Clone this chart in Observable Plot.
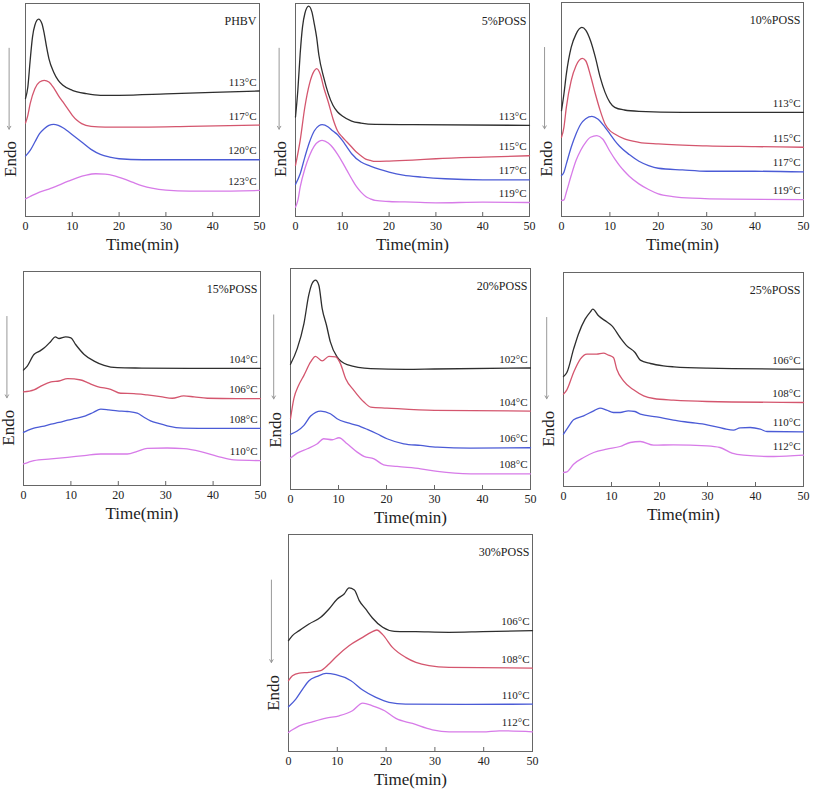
<!DOCTYPE html>
<html><head><meta charset="utf-8">
<script src="https://cdn.jsdelivr.net/npm/d3@7"></script>
<script src="https://cdn.jsdelivr.net/npm/@observablehq/plot@0.6"></script>
<style>
body{margin:0;background:#fff;}
#root{position:relative;width:813px;height:796px;overflow:hidden;background:#fff;}
#root svg{position:absolute;overflow:visible;}
#root svg text{font-family:"Liberation Serif","Times New Roman",serif;}
</style></head><body><div id="root"></div>
<script>
const timeTicks = [0, 10, 20, 30, 40, 50];
const seriesColors = ["#2e2e2e", "#d4566e", "#4b5bd6", "#d77be8"];
const panelTitles = ["PHBV", "5%POSS", "10%POSS", "15%POSS", "20%POSS", "25%POSS", "30%POSS"];

const phbv = [
  {temp: 113, t: [0,0.5,1,1.5,2,2.8,3.5,4,4.5,5,6,7,8,10,13,16,20,30,40,50], v: [353,388,468,538,573,591,578,548,508,473,433,408,393,378,368,363,363,367,372,376]},
  {temp: 117, t: [0,0.5,1,2,3,4,5,6,7,8,9,10,11,12,14,17,25,35,50], v: [280,303,338,383,403,408,403,386,363,343,323,303,288,278,270,268,268,270,274]},
  {temp: 120, t: [0,1,2,3,4,5,6,7,8,9,10,12,14,16,18,20,25,35,50], v: [181,198,223,248,263,273,276,273,266,256,245,223,201,186,178,173,170,170,170]},
  {temp: 123, t: [0,1,3,5,7,9,11,13,15,17,19,21,23,25,27,30,35,40,50], v: [53,60,73,82,93,105,116,124,128,127,122,113,102,92,85,79,76,76,78]}
];
const poss5 = [
  {temp: 113, t: [0,0.5,1,1.5,2,2.8,3.5,4,4.5,5,6,7,8,9,10,12,14,17,25,50], v: [298,378,488,568,608,630,613,578,538,483,418,368,333,313,301,286,280,276,275,273]},
  {temp: 115, t: [0,1,2,3,4,4.5,5.3,6,7,8,9,10,11,12,13,14,15,16,17,20,25,30,40,50], v: [153,228,328,398,436,443,426,388,343,293,256,238,223,208,193,182,172,168,165,166,169,173,178,182]},
  {temp: 117, t: [0,1,2,3,4,5,5.7,7,8,9,10,11,12,14,16,18,20,23,27,32,40,50], v: [96,128,178,223,256,272,275,268,256,245,228,208,188,163,151,141,133,124,118,113,110,110]},
  {temp: 119, t: [0,0.5,1,2,3,4,5,5.7,7,8,9,10,11,12,13,14,15,16,17,20,25,30,40,50], v: [28,48,88,143,183,211,225,228,220,206,186,163,138,113,90,73,60,53,48,45,43,41,43,42]}
];
const poss10 = [
  {temp: 113, t: [0,0.5,1,2,3,4.2,5,6,7,8,9,10,11,13,16,25,50], v: [318,368,428,508,548,568,560,528,478,418,373,343,328,320,316,313,313]},
  {temp: 115, t: [0,0.5,1,2,3,4.3,5,6,7,8,9,10,11,13,16,20,30,40,50], v: [238,268,328,408,453,475,468,423,368,318,278,258,248,233,223,218,212,210,208]},
  {temp: 117, t: [0,0.5,1,2,3,4,5,6.3,7.5,9,10,11,12,14,16,18,20,25,30,40,50], v: [123,133,158,208,248,278,294,301,293,268,248,228,211,186,166,153,145,140,136,136,134]},
  {temp: 119, t: [0,0.5,1,2,3,4,5,6,7.3,8.5,10,11,12,13,14,16,18,20,23,27,35,50], v: [48,50,73,123,168,200,223,238,243,233,196,173,153,136,121,98,81,68,60,55,52,51]}
];
const poss15 = [
  {temp: 104, t: [0,0.8,2.2,3.4,4.4,5.8,6.7,7.5,8.9,10,11,12.8,14.9,17,19.8,25,35,50], v: [348,360,395,405,415,435,448,443,448,445,425,395,375,362,355,354,353,353]},
  {temp: 106, t: [0,2.2,4,5.8,7.5,9.3,12.1,13.5,15.6,18.4,20.5,23.3,26.1,28.9,31.4,33.8,36,38.8,45,50], v: [282,288,302,312,315,322,318,310,298,290,278,277,273,268,263,270,267,263,262,262]},
  {temp: 108, t: [0,1,2.2,4,5.8,7.5,9.3,11,13.1,14.7,16.3,18,19.8,21.9,24,25.5,26.8,28.5,30.3,33.8,40,50], v: [160,167,173,178,185,190,197,202,210,220,230,228,225,223,218,205,195,187,180,173,172,172]},
  {temp: 110, t: [0,1,2.2,5.8,9.3,12.8,16.3,19,21.9,24,26.1,30.3,33.8,37.4,40.9,44.4,50], v: [65,70,75,80,85,90,95,95,95,103,112,113,111,102,88,77,75]}
];
const poss20 = [
  {temp: 102, t: [0,1.4,2.8,3.8,4.5,5.2,5.9,6.6,7.5,8.3,9.7,11.8,16.7,24,30,50], v: [375,422,497,582,617,627,612,542,492,442,397,374,362,360,361,364]},
  {temp: 104, t: [0,0.7,1.7,2.8,4.2,5.2,6.6,8,9.4,10.4,11.5,13.2,15.3,16.7,20.1,30,50], v: [212,272,312,342,382,399,385,399,397,377,332,297,262,247,244,237,235]},
  {temp: 106, t: [0,1.4,2.8,4.2,6.3,8.3,9.7,11.8,13.9,16,18,20.1,23.6,27.1,30.6,37.5,50], v: [165,175,192,220,235,227,212,200,192,180,167,152,137,132,127,124,125]},
  {temp: 108, t: [0,1.4,3.5,5.6,6.9,8.7,10.1,11.8,13.9,15.3,17.4,19.4,22.2,27.1,30.6,37.5,50], v: [94,109,122,137,152,149,155,137,112,99,92,74,69,62,54,47,47]}
];
const poss25 = [
  {temp: 106, t: [0,0.7,2.1,3.1,4.5,5.6,6.1,7.3,9,10.1,11.8,13.2,14.9,16,18.1,20.8,23,30,50], v: [330,342,412,457,502,524,532,512,494,482,447,422,402,379,369,362,359,355,352]},
  {temp: 108, t: [0,0.7,2.1,3.5,4.9,6.9,8.3,9.4,10.4,11.1,12.5,14.6,16.7,18.8,22.9,29.9,50], v: [277,290,342,382,397,397,400,394,387,352,317,290,272,264,259,255,252]},
  {temp: 110, t: [0,0.7,2.1,4.2,6.3,7.6,9,10.4,11.8,13.5,14.9,16,19.4,22.9,26.4,29.9,33.3,35.4,36.8,38.9,41,42.4,50], v: [157,172,200,212,227,235,229,222,222,227,225,217,209,199,192,185,174,169,176,177,172,165,164]},
  {temp: 112, t: [0,0.7,2.1,4.2,6.3,9,11.8,13.9,16,18.8,22.9,29.9,32.6,35.1,37.5,43.8,50], v: [42,44,67,87,102,112,120,132,135,124,125,122,117,100,94,90,94]}
];
const poss30 = [
  {temp: 106, t: [0,0.8,2.2,4.2,6.6,8.3,10,11.4,12.4,13.5,14.5,15.8,17.2,19.3,21.7,26.1,32.9,39.8,50], v: [332,347,362,382,402,427,457,472,490,484,452,427,400,372,360,359,357,359,362]},
  {temp: 108, t: [0,0.8,2.2,4.2,6.6,8.3,10,12.4,15.2,16.9,18.1,19.3,21.3,24,26.1,28.8,32.9,50], v: [212,227,235,237,242,262,287,317,342,357,364,350,312,282,267,257,252,250]},
  {temp: 110, t: [0,1.5,2.9,4.2,5.9,7.7,9.7,12.8,15.2,17.9,20.6,24,36.3,50], v: [134,157,187,212,225,234,230,212,184,162,147,142,141,142]},
  {temp: 112, t: [0,0.8,2.2,4.9,7.7,10.4,13.1,15.2,17.2,19.7,22,25.4,29.5,32.9,39.8,43.2,50], v: [57,65,77,89,100,107,122,145,137,122,99,84,65,59,59,62,59]}
];
const panelData = [phbv, poss5, poss10, poss15, poss20, poss25, poss30];
const panelMax = [638, 638, 643, 645, 662, 642, 650];

// plot-area boxes on the page (layout only)
const layout = [
  {left: 25, right: 259, top: 3, bottom: 216},
  {left: 295, right: 529, top: 3, bottom: 216},
  {left: 561, right: 803, top: 2, bottom: 216},
  {left: 23, right: 260, top: 271, bottom: 485},
  {left: 290, right: 530, top: 268, bottom: 489},
  {left: 563, right: 803, top: 272, bottom: 486},
  {left: 288, right: 532, top: 534, bottom: 751}
];
const M = {l: 30, r: 10, t: 2, b: 45};
const serif = "Liberation Serif";
const root = document.getElementById("root");

layout.forEach((box, i) => {
  const series = panelData[i];
  const ymax = panelMax[i];
  const rows = series.flatMap((s, k) => s.t.map((t, j) => ({t, v: s.v[j], k})));
  const ends = series.map((s, k) => ({t: s.t[s.t.length - 1], v: s.v[s.v.length - 1], k, label: s.temp + "°C"}));
  const chart = Plot.plot({
    width: box.right - box.left + M.l + M.r,
    height: box.bottom - box.top + M.t + M.b,
    marginLeft: M.l, marginRight: M.r, marginTop: M.t, marginBottom: M.b,
    x: {domain: [0, 50]},
    y: {domain: [0, ymax], axis: null},
    color: {domain: [0, 1, 2, 3], range: seriesColors},
    style: {fontFamily: serif, background: "transparent", overflow: "visible", color: "#222"},
    marks: [
      Plot.frame({stroke: "#666", strokeWidth: 1}),
      Plot.axisX({ticks: timeTicks, tickSize: -4, tickPadding: 9, fontSize: 12, fontFamily: serif, label: null, stroke: "#666"}),
      Plot.text([{s: "Time(min)"}], {text: "s", frameAnchor: "bottom", dy: 33, fontSize: 17, fontFamily: serif, fill: "#222"}),
      Plot.text([{s: "Endo", y: ymax * 0.27}], {text: "s", y: "y", frameAnchor: "left", textAnchor: "middle", rotate: -90, dx: -15, fontSize: 17, fontFamily: serif, fill: "#222"}),
      Plot.arrow([{x: -3.5, y1: ymax * 0.79, y2: ymax * 0.41}], {x1: "x", x2: "x", y1: "y1", y2: "y2", stroke: "#999", strokeWidth: 1, headLength: 5}),
      Plot.line(rows, {x: "t", y: "v", z: "k", stroke: "k", curve: "monotone-x", strokeWidth: 1.3}),
      Plot.text(ends, {x: "t", y: "v", text: "label", textAnchor: "end", dx: -3, dy: -9, fontSize: 11, fontFamily: serif, fill: "#222"}),
      Plot.text([{s: panelTitles[i]}], {text: "s", frameAnchor: "top-right", dx: -3, dy: 13, fontSize: 12, fontFamily: serif, fill: "#222"})
    ]
  });
  chart.style.left = (box.left - M.l) + "px";
  chart.style.top = (box.top - M.t) + "px";
  root.appendChild(chart);
});
</script></body></html>
